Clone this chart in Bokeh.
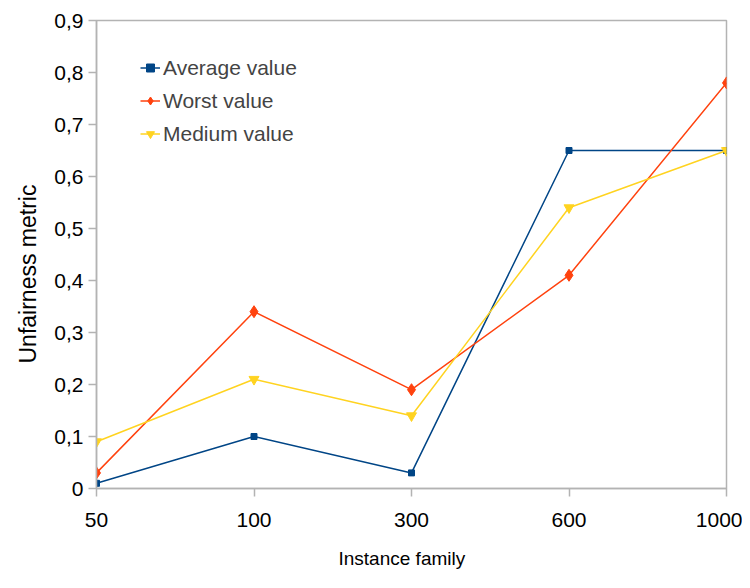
from bokeh.plotting import figure
from bokeh.models import Range1d, FixedTicker, CustomJSTickFormatter, Legend, LegendItem, Title
from bokeh.embed import file_html
from bokeh.resources import INLINE

categories = ["50", "100", "300", "600", "1000"]
average_value = [0.01, 0.10, 0.03, 0.65, 0.65]
worst_value = [0.03, 0.34, 0.19, 0.41, 0.78]
medium_value = [0.09, 0.21, 0.14, 0.54, 0.65]
y_ticks = [0, 0.1, 0.2, 0.3, 0.4, 0.5, 0.6, 0.7, 0.8, 0.9]
x_title = "Instance family"
y_title = "Unfairness metric"

xs = list(range(len(categories)))
FONT = "Liberation Sans"
GRAY = "#b3b3b3"

p = figure(width=742, height=586, output_backend="svg", toolbar_location=None,
           x_range=Range1d(0, len(categories) - 1), y_range=Range1d(0, 0.9),
           min_border_left=96, min_border_right=16, min_border_top=20, min_border_bottom=98)
p.xgrid.visible = False
p.ygrid.visible = False
p.outline_line_color = GRAY
p.outline_line_width = 1.5

p.xaxis.ticker = FixedTicker(ticks=xs)
p.xaxis.major_label_overrides = {i: c for i, c in enumerate(categories)}
p.yaxis.ticker = FixedTicker(ticks=y_ticks)
p.yaxis.formatter = CustomJSTickFormatter(code="return tick == 0 ? '0' : tick.toFixed(1).replace('.', ',');")

for ax in (p.xaxis[0], p.yaxis[0]):
    ax.axis_line_color = GRAY
    ax.axis_line_width = 1.5
    ax.major_tick_line_color = GRAY
    ax.major_tick_line_width = 1.5
    ax.major_tick_out = 8
    ax.major_tick_in = 0
    ax.minor_tick_line_color = None
    ax.major_label_text_font = FONT
    ax.major_label_text_font_size = "21px"
    ax.major_label_text_color = "#000000"

p.xaxis.major_label_standoff = 16
p.yaxis.major_label_standoff = 5

p.add_layout(Title(text=x_title, align="left", offset=242, standoff=33,
                   text_font=FONT, text_font_size="19px", text_font_style="normal",
                   text_color="#000000"), "below")
p.add_layout(Title(text=y_title, align="left", offset=125, standoff=22,
                   text_font=FONT, text_font_size="23px", text_font_style="normal",
                   text_color="#000000"), "left")

series = [
    ("Average value", average_value, "#004586", "square", 6),
    ("Worst value", worst_value, "#ff420e", "diamond", 12),
    ("Medium value", medium_value, "#ffd320", "inverted_triangle", 10),
]
items = []
for label, ys, color, marker, size in series:
    l = p.line(xs, ys, line_color=color, line_width=1.5)
    s = p.scatter(xs, ys, marker=marker, size=size, fill_color=color, line_color=color)
    items.append(LegendItem(label=label, renderers=[l, s]))

legend = Legend(items=items, location=(44, 338), padding=0, margin=0, spacing=0,
                glyph_width=20, glyph_height=33, label_height=33, label_standoff=3,
                label_text_font=FONT, label_text_font_size="21px",
                border_line_alpha=0, background_fill_alpha=0)
p.add_layout(legend, "center")

open("out.html", "w").write(file_html(p, INLINE))
